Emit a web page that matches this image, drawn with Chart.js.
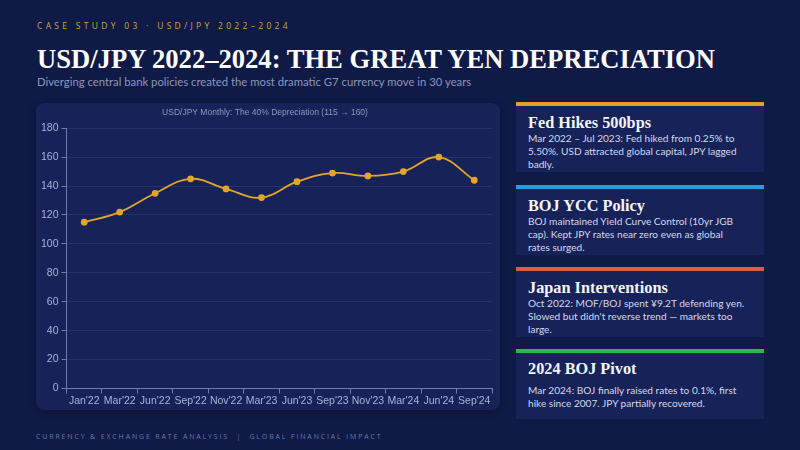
<!DOCTYPE html>
<html>
<head>
<meta charset="utf-8">
<script src="https://cdn.jsdelivr.net/npm/chart.js@4.4.1/dist/chart.umd.min.js"></script>
<style>
  html, body { margin: 0; padding: 0; }
  body { width: 800px; height: 450px; background: #0f1a46; position: relative; overflow: hidden; font-family: Lato, sans-serif; }
  .kicker { position: absolute; left: 37px; top: 20px; font-size: 8.5px; letter-spacing: 3.3px; color: #d0a63e; font-family: "Open Sans", sans-serif; }
  .title { position: absolute; left: 37px; top: 44px; font-family: "Liberation Serif", serif; font-weight: bold; font-size: 26.6px; color: #ffffff; white-space: nowrap; }
  .sub { position: absolute; left: 37px; top: 75px; font-size: 11.3px; color: #8c97bd; white-space: nowrap; }
  .panel { position: absolute; left: 36px; top: 103px; width: 464px; height: 307px; background: #172258; border-radius: 8px; box-shadow: 0 2px 6px rgba(0,0,0,0.35); }
  .panel .wrap { position: absolute; left: 0; top: 0; width: 464px; height: 307px; }
  .card { position: absolute; left: 516px; width: 248px; height: 66px; background: #172258; border-top: 4px solid; }
  .card h3 { margin: 0; position: absolute; left: 12px; font-family: "Liberation Serif", serif; font-weight: bold; font-size: 16.3px; color: #f4f5fa; white-space: nowrap; }
  .card p { margin: 0; position: absolute; left: 12px; font-size: 10.1px; line-height: 13px; color: #d3d9ee; white-space: nowrap; }
  .foot { position: absolute; left: 36px; top: 432px; font-size: 7px; letter-spacing: 1.85px; color: #6b78a8; font-family: "Open Sans", sans-serif; white-space: nowrap; }
</style>
</head>
<body>
<div class="kicker">CASE STUDY 03 · USD/JPY 2022–2024</div>
<div class="title">USD/JPY 2022–2024: THE GREAT YEN DEPRECIATION</div>
<div class="sub">Diverging central bank policies created the most dramatic G7 currency move in 30 years</div>

<div class="panel"><div class="wrap"><canvas id="fx"></canvas></div></div>

<div class="card" style="top:102px;border-color:#e0a02c">
  <h3 style="top:7px">Fed Hikes 500bps</h3>
  <p style="top:26px">Mar 2022 – Jul 2023: Fed hiked from 0.25% to<br>5.50%. USD attracted global capital, JPY lagged<br>badly.</p>
</div>
<div class="card" style="top:185px;border-color:#1da1e2">
  <h3 style="top:7px">BOJ YCC Policy</h3>
  <p style="top:26px">BOJ maintained Yield Curve Control (10yr JGB<br>cap). Kept JPY rates near zero even as global<br>rates surged.</p>
</div>
<div class="card" style="top:267px;border-color:#e9574a">
  <h3 style="top:7px">Japan Interventions</h3>
  <p style="top:26px">Oct 2022: MOF/BOJ spent ¥9.2T defending yen.<br>Slowed but didn't reverse trend — markets too<br>large.</p>
</div>
<div class="card" style="top:349px;border-color:#2bb55e">
  <h3 style="top:6px">2024 BOJ Pivot</h3>
  <p style="top:31px">Mar 2024: BOJ finally raised rates to 0.1%, first<br>hike since 2007. JPY partially recovered.</p>
</div>

<div class="foot">CURRENCY &amp; EXCHANGE RATE ANALYSIS &nbsp;|&nbsp; GLOBAL FINANCIAL IMPACT</div>

<script>
const months = ["Jan'22", "Mar'22", "Jun'22", "Sep'22", "Nov'22", "Mar'23", "Jun'23", "Sep'23", "Nov'23", "Mar'24", "Jun'24", "Sep'24"];
const usdJpy = [115, 122, 135, 145, 138, 132, 143, 149, 147, 150, 160, 144];
const yTicks = [0, 20, 40, 60, 80, 100, 120, 140, 160, 180];

const gold = '#e3a52a';
const tickColor = '#a9b3d8';
const axisColor = '#6f7cae';

new Chart(document.getElementById('fx'), {
  type: 'line',
  data: {
    labels: months,
    datasets: [{
      label: 'USD/JPY',
      data: usdJpy,
      borderColor: gold,
      backgroundColor: gold,
      borderWidth: 1.8,
      tension: 0.4,
      pointRadius: 2.5,
      pointHoverRadius: 2.5,
      fill: false,
    }],
  },
  options: {
    responsive: true,
    maintainAspectRatio: false,
    animation: false,
    layout: { padding: { left: 2, right: 8, top: 0, bottom: 2 } },
    plugins: {
      legend: { display: false },
      tooltip: { enabled: false },
      title: {
        display: true,
        text: 'USD/JPY Monthly: The 40% Depreciation (115 → 160)',
        color: '#8d97c3',
        font: { family: 'Liberation Sans', size: 8.5, weight: 'normal' },
        padding: { top: 5, bottom: 10 },
      },
    },
    scales: {
      x: {
        offset: true,
        grid: { offset: true, drawOnChartArea: false, drawTicks: true, tickLength: 5, color: axisColor },
        border: { display: true, color: axisColor, width: 1 },
        ticks: { color: tickColor, font: { family: 'Liberation Sans', size: 10.5, lineHeight: 1 }, maxRotation: 0, autoSkip: false, padding: 2 },
      },
      y: {
        min: 0,
        max: 180,
        afterBuildTicks: (axis) => { axis.ticks = yTicks.map((v) => ({ value: v })); },
        grid: { color: 'rgba(120,140,200,0.16)', tickLength: 5, tickColor: axisColor },
        border: { display: true, color: axisColor, width: 1 },
        ticks: { color: tickColor, font: { family: 'Liberation Sans', size: 10.5 }, padding: 3 },
      },
    },
  },
});
</script>
</body>
</html>
